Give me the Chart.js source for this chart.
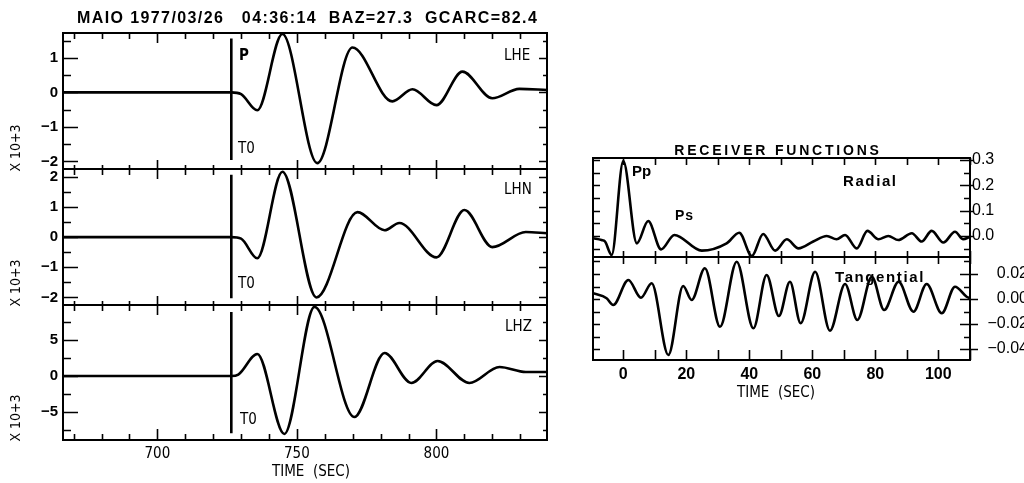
<!DOCTYPE html>
<html>
<head>
<meta charset="utf-8">
<script src="https://cdn.jsdelivr.net/npm/chart.js@4.4.0/dist/chart.umd.min.js"></script>
<style>
  body { margin:0; background:#fff; width:1024px; height:483px; overflow:hidden; position:relative; font-family:'Liberation Sans', Arial, sans-serif; }
  canvas { position:absolute; }
  .lbl { position:absolute; white-space:pre; line-height:1; color:#000; transform:translate(0,-50%); }
  .narrow { font-family:'DejaVu Sans Condensed','Liberation Sans Narrow','Arial Narrow',sans-serif; font-size:15px; }
  .bold { font-weight:bold; }
</style>
</head>
<body>
<script>
// seismograms (time in sec, amplitude x 10^3)
const t0 = 726.5;
const lheTime = [666.2, 726.5, 730, 735.8, 744.8, 757.3, 769.9, 784.2, 791.4, 800, 809.3, 820, 829.7, 839.6];
const lheAmp  = [0, 0, -0.05, -0.52, 1.69, -2.05, 1.30, -0.26, 0.09, -0.37, 0.60, -0.17, 0.10, 0.07];
const lhnTime = [666.2, 726.5, 730, 735.8, 744.8, 757, 771.7, 781.4, 786.7, 800, 810, 820, 832, 839.6];
const lhnAmp  = [0, 0, -0.05, -0.70, 2.17, -2.00, 0.83, 0.23, 0.47, -0.67, 0.90, -0.33, 0.17, 0.13];
const lhzTime = [666.2, 726.5, 729, 735.8, 745.5, 756.3, 770.6, 781.4, 791, 800.4, 811.8, 822.6, 832, 839.6];
const lhzAmp  = [0, 0, 0.2, 3.06, -8.05, 9.6, -5.7, 3.2, -0.97, 2.08, -0.97, 1.25, 0.55, 0.55];
const t0MarkE = [1.56, -1.96];
const t0MarkN = [2.07, -2.03];
const t0MarkZ = [8.9, -7.95];

// receiver functions
const radTime = [-9.6, -6.9, -5.8, -3.7, 0, 4.3, 7.9, 12.0, 16.2, 24.9, 32.8, 36.8, 40.8, 44.4, 48.2, 51.9, 55.6, 60.3, 64.6, 67.7, 70.4, 74.1, 77.5, 81.0, 84.1, 87.3, 91.6, 94.7, 97.9, 101.6, 105.3, 107.9, 110.06];
const radAmp  = [-0.009, -0.016, -0.022, -0.075, 0.296, -0.029, 0.059, -0.053, 0.004, -0.058, -0.029, 0.013, -0.079, 0.008, -0.058, -0.013, -0.049, -0.022, 0.0, -0.013, 0.004, -0.049, 0.02, -0.013, 0.0, -0.016, 0.011, -0.022, 0.020, -0.026, 0.017, -0.013, -0.003];
const tanTime = [-9.6, -5.3, -3.2, 1.6, 5.6, 9.0, 14.3, 19.0, 21.7, 25.9, 30.7, 36.0, 41.3, 45.5, 49.4, 52.9, 56.3, 60.9, 65.6, 70.4, 74.3, 78.9, 82.8, 87.4, 92.1, 96.3, 101.1, 105.3, 109.0, 110.06];
const tanAmp  = [0.0046, 0.0006, -0.0048, 0.0152, 0.001, 0.0126, -0.0448, 0.0104, -0.0008, 0.0246, -0.0222, 0.0298, -0.0234, 0.0192, -0.0136, 0.0138, -0.0194, 0.0218, -0.0254, 0.012, -0.0168, 0.0178, -0.0088, 0.0138, -0.0102, 0.012, -0.0114, 0.0098, 0.0018, 0.0006];

// tick labels
const seisXTicks = [700, 750, 800];
const lheYTicks = [1, 0, -1, -2];
const lhnYTicks = [2, 1, 0, -1, -2];
const lhzYTicks = [5, 0, -5];
const rfXTicks = [0, 20, 40, 60, 80, 100];
const radYTicks = [0.3, 0.2, 0.1, 0.0];
const tanYTicks = [0.02, 0.0, -0.02, -0.04];

const frameTicks = {
  id: 'frameTicks',
  afterDatasetsDraw(chart, args, opts) {
    const { ctx, chartArea: a, scales } = chart;
    ctx.save();
    ctx.strokeStyle = '#000';
    ctx.lineWidth = 2;
    ctx.strokeRect(a.left, a.top, a.right - a.left, a.bottom - a.top);
    ctx.lineWidth = 1.6;
    ctx.beginPath();
    (opts.sides || []).forEach(s => {
      const horiz = s.pos === 'top' || s.pos === 'bottom';
      const sc = horiz ? scales.x : scales.y;
      const start = Math.ceil(sc.min / s.step - 1e-9);
      const end = Math.floor(sc.max / s.step + 1e-9);
      for (let i = start; i <= end; i++) {
        const v = i * s.step;
        const isMajor = s.major && Math.abs(v / s.major - Math.round(v / s.major)) < 1e-6;
        const len = isMajor ? s.majorLen : s.len;
        const out = isMajor ? (s.out || 0) : 0;
        const p = Math.round(sc.getPixelForValue(v)) + 0.5;
        if (s.pos === 'top') { ctx.moveTo(p, a.top); ctx.lineTo(p, a.top + len); }
        if (s.pos === 'bottom') { ctx.moveTo(p, a.bottom); ctx.lineTo(p, a.bottom - len); }
        if (s.pos === 'left') { ctx.moveTo(a.left, p); ctx.lineTo(a.left + len, p); }
        if (s.pos === 'right') { ctx.moveTo(a.right + out, p); ctx.lineTo(a.right - len, p); }
      }
    });
    ctx.stroke();
    ctx.restore();
  }
};

function pts(xs, ys) {
  return xs.map((x, i) => ({ x: x, y: ys[i] }));
}

function wave(xs, ys) {
  return { data: pts(xs, ys), borderColor: '#000', borderWidth: 2.6, pointRadius: 0, cubicInterpolationMode: 'monotone', fill: false };
}

function marker(ys) {
  return { data: [{ x: t0, y: ys[0] }, { x: t0, y: ys[1] }], borderColor: '#000', borderWidth: 2.6, pointRadius: 0, tension: 0 };
}

function makePanel(c) {
  const [L, T, R, B] = c.box;
  const pad = 10;
  const cv = document.createElement('canvas');
  const left = c.ySide === 'left' ? L - c.yW - pad : L - pad;
  cv.width = (R - L) + c.yW + 2 * pad;
  cv.height = (B - T) + (c.xH || 0) + 2 * pad;
  cv.style.left = left + 'px';
  cv.style.top = (T - pad) + 'px';
  document.body.appendChild(cv);
  new Chart(cv, {
    type: 'line',
    data: { datasets: c.datasets },
    options: {
      responsive: false,
      animation: false,
      devicePixelRatio: 1,
      layout: { padding: pad },
      plugins: { legend: { display: false }, tooltip: { enabled: false }, frameTicks: { sides: c.sides } },
      scales: {
        x: {
          type: 'linear', min: c.xMin, max: c.xMax, display: !!c.xTicks,
          grid: { display: false, drawTicks: false }, border: { display: false },
          afterBuildTicks: s => { s.ticks = (c.xTicks || []).map(v => ({ value: v })); },
          afterFit: s => { s.height = c.xH || 0; s.paddingLeft = 0; s.paddingRight = 0; },
          ticks: { font: c.xFont, color: '#000', padding: 5, maxRotation: 0, autoSkip: false }
        },
        y: {
          type: 'linear', position: c.ySide, min: c.yMin, max: c.yMax,
          grid: { display: false, drawTicks: false }, border: { display: false },
          afterBuildTicks: s => { s.ticks = c.yTicks.map(v => ({ value: v })); },
          afterFit: s => { s.width = c.yW; s.paddingTop = 0; s.paddingBottom = 0; },
          ticks: { font: c.yFont, color: '#000', padding: c.yPad, crossAlign: c.crossAlign || 'near', autoSkip: false, callback: c.yFmt }
        }
      }
    },
    plugins: [frameTicks]
  });
}

const intFmt = v => (v < 0 ? '\u2212' + Math.abs(v) : String(v));
const seisFont = { family: 'Liberation Sans', size: 15, weight: 'bold' };
const narrowFont = { family: "'DejaVu Sans Condensed', 'Liberation Sans Narrow', sans-serif", size: 15 };
const seisSides = (minor, major, botLen) => [
  { pos: 'top', step: 10, major: 50, len: 6, majorLen: 10 },
  { pos: 'bottom', step: 10, major: 50, len: botLen, majorLen: botLen + 5 },
  { pos: 'left', step: minor, major: major, len: 8, majorLen: 15 },
  { pos: 'right', step: minor, major: major, len: 4, majorLen: 8 }
];

makePanel({ box: [63, 33, 547, 169], ySide: 'left', yW: 40, xMin: 666.2, xMax: 839.6, yMin: -2.22, yMax: 1.72,
  yTicks: lheYTicks, yFmt: intFmt, yFont: seisFont, yPad: 5, sides: seisSides(0.5, 1, 4),
  datasets: [wave(lheTime, lheAmp), marker(t0MarkE)] });
makePanel({ box: [63, 169, 547, 305], ySide: 'left', yW: 40, xMin: 666.2, xMax: 839.6, yMin: -2.25, yMax: 2.26,
  yTicks: lhnYTicks, yFmt: intFmt, yFont: seisFont, yPad: 5, sides: seisSides(0.5, 1, 4),
  datasets: [wave(lhnTime, lhnAmp), marker(t0MarkN)] });
makePanel({ box: [63, 305, 547, 440], ySide: 'left', yW: 40, xH: 24, xMin: 666.2, xMax: 839.6, yMin: -8.89, yMax: 9.86,
  xTicks: seisXTicks, xFont: narrowFont,
  yTicks: lhzYTicks, yFmt: intFmt, yFont: seisFont, yPad: 5, sides: seisSides(2.5, 5, 6),
  datasets: [wave(lhzTime, lhzAmp), marker(t0MarkZ)] });

makePanel({ box: [593, 158, 970, 257], ySide: 'right', yW: 50, xMin: -9.62, xMax: 110.06, yMin: -0.083, yMax: 0.308,
  yTicks: radYTicks, yFmt: v => v.toFixed(1), yFont: { family: 'Liberation Sans', size: 16 }, yPad: 2,
  sides: [
    { pos: 'top', step: 10, len: 7 }, { pos: 'bottom', step: 10, len: 6 },
    { pos: 'left', step: 0.05, len: 7 }, { pos: 'right', step: 0.05, major: 0.1, len: 6, majorLen: 10, out: 4 }
  ],
  datasets: [wave(radTime, radAmp)] });
makePanel({ box: [593, 257, 970, 360], ySide: 'right', yW: 58, xH: 24, xMin: -9.62, xMax: 110.06, yMin: -0.0488, yMax: 0.0336,
  xTicks: rfXTicks, xFont: { family: 'Liberation Sans', size: 16, weight: 'bold' },
  yTicks: tanYTicks, yFmt: v => (v < 0 ? '\u2212' : '') + Math.abs(v).toFixed(2), yFont: { family: 'Liberation Sans', size: 16 },
  yPad: 18, crossAlign: 'far',
  sides: [
    { pos: 'top', step: 10, len: 7 }, { pos: 'bottom', step: 10, len: 10 },
    { pos: 'left', step: 0.01, len: 7 }, { pos: 'right', step: 0.01, major: 0.02, len: 6, majorLen: 10, out: 8 }
  ],
  datasets: [wave(tanTime, tanAmp)] });

// text annotations
function label(text, x, y, cls, extra) {
  const d = document.createElement('div');
  d.className = 'lbl ' + cls;
  d.textContent = text;
  d.style.left = x + 'px';
  d.style.top = y + 'px';
  if (extra) Object.assign(d.style, extra);
  document.body.appendChild(d);
}

label('MAIO 1977/03/26   04:36:14  BAZ=27.3  GCARC=82.4', 77, 18, 'bold', { fontSize: '16px', letterSpacing: '1.4px' });
label('P', 239, 55, 'narrow bold');
label('T0', 238, 148, 'narrow');
label('LHE', 504, 55, 'narrow');
label('LHN', 504, 189, 'narrow');
label('T0', 238, 283, 'narrow');
label('LHZ', 505, 326, 'narrow');
label('T0', 240, 419, 'narrow');
label('TIME  (SEC)', 272, 471, 'narrow');
[148, 283, 418].forEach(y => label('X 10+3', 15, y, 'narrow', { fontSize: '14px', transform: 'translate(-50%,-50%) rotate(-90deg)' }));

label('RECEIVER FUNCTIONS', 778, 150, 'bold', { fontSize: '14px', letterSpacing: '2.8px', transform: 'translate(-50%,-50%)' });
label('Pp', 632, 170, 'bold', { fontSize: '15px' });
label('Ps', 675, 215, 'bold', { fontSize: '14px', letterSpacing: '1px' });
label('Radial', 843, 180, 'bold', { fontSize: '15px', letterSpacing: '1.6px' });
label('Tangential', 835, 276, 'bold', { fontSize: '15px', letterSpacing: '1.6px' });
label('TIME  (SEC)', 737, 392, 'narrow');
</script>
</body>
</html>
